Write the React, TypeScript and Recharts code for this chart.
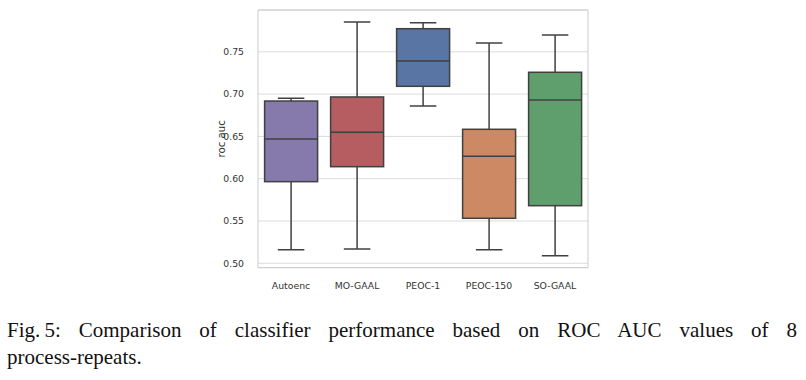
import React from 'react';
import { ComposedChart, Bar, Cell, XAxis, YAxis, CartesianGrid } from 'recharts';

// classifiers and their roc auc box stats
const CLASSIFIERS = ['Autoenc', 'MO-GAAL', 'PEOC-1', 'PEOC-150', 'SO-GAAL'];
const MINS = [0.516, 0.517, 0.686, 0.516, 0.509];
const Q1S = [0.5965, 0.6142, 0.7092, 0.5532, 0.5681];
const MEDIANS = [0.6469, 0.6548, 0.7391, 0.6265, 0.693];
const Q3S = [0.6918, 0.6966, 0.7773, 0.6584, 0.7258];
const MAXS = [0.695, 0.7852, 0.7844, 0.7604, 0.7699];
const Y_TICKS = [0.5, 0.55, 0.6, 0.65, 0.7, 0.75];

const COLORS = ['#857aab', '#b55d60', '#5875a4', '#cc8963', '#5f9e6d'];
const EDGE = '#404040';
const FONT = '"DejaVu Sans", sans-serif';

const data = CLASSIFIERS.map((name, i) => ({
    name,
    whisker: [MINS[i], MAXS[i]],
    min: MINS[i],
    q1: Q1S[i],
    median: MEDIANS[i],
    q3: Q3S[i],
    max: MAXS[i],
}));

// draws whiskers + box + median from the bar spanning [min, max]
const BoxShape = (props: any) => {
    const { x, y, width, height, payload, fill } = props;
    const top = Math.min(y, y + height);
    const bottom = Math.max(y, y + height);
    const ppu = (bottom - top) / (payload.max - payload.min);
    const py = (v: number) => bottom - (v - payload.min) * ppu;
    const cx = x + width / 2;
    const cap = width / 4;
    return (
        <g>
            <line x1={cx} x2={cx} y1={py(payload.max)} y2={py(payload.q3)} stroke={EDGE} strokeWidth={1.5} />
            <line x1={cx} x2={cx} y1={py(payload.q1)} y2={py(payload.min)} stroke={EDGE} strokeWidth={1.5} />
            <line x1={cx - cap} x2={cx + cap} y1={py(payload.max)} y2={py(payload.max)} stroke={EDGE} strokeWidth={1.5} />
            <line x1={cx - cap} x2={cx + cap} y1={py(payload.min)} y2={py(payload.min)} stroke={EDGE} strokeWidth={1.5} />
            <rect
                x={x}
                y={py(payload.q3)}
                width={width}
                height={py(payload.q1) - py(payload.q3)}
                fill={fill}
                stroke={EDGE}
                strokeWidth={1.5}
            />
            <line x1={x} x2={x + width} y1={py(payload.median)} y2={py(payload.median)} stroke={EDGE} strokeWidth={1.5} />
        </g>
    );
};

const YLabel = ({ viewBox }: any) => {
    const lx = viewBox.x + 21.7;
    const ly = viewBox.y + viewBox.height / 2;
    return (
        <text
            x={lx}
            y={ly}
            transform={`rotate(-90 ${lx} ${ly})`}
            textAnchor="middle"
            dominantBaseline="central"
            fontSize={10.2}
            fontFamily={FONT}
            fill="#333"
        >
            roc auc
        </text>
    );
};

export default function App() {
    return (
        <div style={{ position: 'absolute', left: 0, top: 0, width: 806, height: 380, background: '#fff' }}>
            <ComposedChart
                width={806}
                height={300}
                data={data}
                margin={{ top: 10, right: 218, bottom: 0, left: 200 }}
                barCategoryGap="10%"
            >
                <CartesianGrid vertical={false} stroke="#dcdcdc" strokeWidth={1} />
                <CartesianGrid
                    stroke="#cccccc"
                    strokeWidth={1}
                    horizontalCoordinatesGenerator={({ offset }: any) => [offset.top, offset.top + offset.height]}
                    verticalCoordinatesGenerator={({ offset }: any) => [offset.left, offset.left + offset.width]}
                />
                <XAxis
                    dataKey="name"
                    height={32.3}
                    interval={0}
                    tickLine={false}
                    axisLine={false}
                    tickMargin={8.5}
                    tick={{ fontSize: 9.3, fontFamily: FONT, fill: '#333' }}
                />
                <YAxis
                    width={58}
                    domain={[0.4948, 0.7994]}
                    allowDataOverflow
                    ticks={Y_TICKS}
                    interval={0}
                    tickFormatter={(v: number) => v.toFixed(2)}
                    tickLine={false}
                    axisLine={false}
                    tickMargin={8}
                    tick={{ fontSize: 9.3, fontFamily: FONT, fill: '#333' }}
                    label={<YLabel />}
                />
                <Bar dataKey="whisker" shape={<BoxShape />} isAnimationActive={false}>
                    {data.map((d, i) => (
                        <Cell key={d.name} fill={COLORS[i]} />
                    ))}
                </Bar>
            </ComposedChart>
            <div
                style={{
                    position: 'absolute',
                    left: 7,
                    top: 317.4,
                    width: 790,
                    fontFamily: '"Liberation Serif", serif',
                    fontSize: 21,
                    lineHeight: '27px',
                    color: '#111',
                }}
            >
                <div style={{ textAlign: 'justify', textAlignLast: 'justify', whiteSpace: 'nowrap' as any }}>
                    Fig.&thinsp;5: Comparison of classifier performance based on ROC AUC values of 8
                </div>
                <div>process-repeats.</div>
            </div>
        </div>
    );
}
